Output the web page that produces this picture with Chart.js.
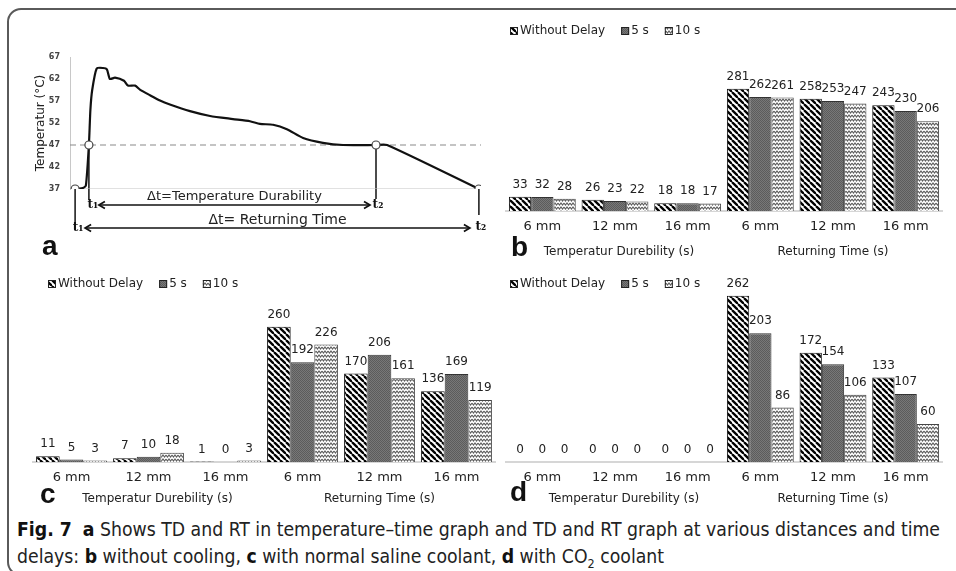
<!DOCTYPE html>
<html><head><meta charset="utf-8">
<script src="https://cdn.jsdelivr.net/npm/chart.js@4.4.0/dist/chart.umd.min.js"></script>
<style>
html,body{margin:0;padding:0;background:#fff;width:956px;height:571px;overflow:hidden;font-family:"DejaVu Sans",sans-serif;}
#frame{position:absolute;left:7px;top:8px;width:1000px;height:568px;border:2px solid #5a5a5a;border-radius:14px;box-sizing:border-box;}
canvas{position:absolute;}
.lt{position:absolute;font-family:"Liberation Sans",Arial,sans-serif;font-weight:bold;color:#111;line-height:1;font-size:28px;}
#cap{position:absolute;left:17px;top:516px;font-family:"Liberation Sans Narrow","DejaVu Sans Condensed",sans-serif;font-size:20px;line-height:27px;color:#222;white-space:nowrap;transform-origin:0 0;}
#cap b{color:#111;}
</style></head>
<body>
<div id="frame"></div>
<canvas id="ca" width="480" height="230" style="left:10px;top:40px;width:480px;height:230px"></canvas>
<canvas id="cb" width="476" height="250" style="left:480px;top:14px;width:476px;height:250px"></canvas>
<canvas id="cc" width="490" height="250" style="left:10px;top:262px;width:490px;height:250px"></canvas>
<canvas id="cd" width="476" height="250" style="left:480px;top:262px;width:476px;height:250px"></canvas>
<div class="lt" style="left:42px;top:232px;">a</div>
<div class="lt" style="left:511px;top:233px;">b</div>
<div class="lt" style="left:40px;top:480px;">c</div>
<div class="lt" style="left:510px;top:478px;">d</div>
<div id="cap"><span id="l1"><b>Fig. 7</b>&nbsp; <b>a</b> Shows TD and RT in temperature–time graph and TD and RT graph at various distances and time</span><br>delays: <b>b</b> without cooling, <b>c</b> with normal saline coolant, <b>d</b> with CO<sub style="font-size:13px;line-height:0">2</sub> coolant</div>
<script>
// ---------- Panel a data ----------
const tempTime   = [1.7, 4.5, 5.3, 6.3, 6.8, 7.4, 8.9, 11, 12.3, 13.3, 15, 18, 19.3, 21.7, 23.3, 26.7, 30, 33.3, 40, 46.7, 54.3, 60, 63.3, 67.7, 72.3, 77.7, 84.3, 91, 102, 105.7, 136.3];
const tempValues = [37, 37.3, 37.8, 47, 55, 59.5, 64.4, 64.5, 64.2, 62.0, 62.3, 61.6, 60.5, 60.5, 59.6, 58.3, 57.1, 56.2, 54.7, 53.6, 52.9, 52.4, 51.8, 51.6, 50.6, 48.6, 47.5, 47.0, 47, 47, 37];
const markerTimes = [1.7, 6.3, 102, 136.3];
const markerTemps = [37, 47, 47, 37];
const baseTemp = 37;
const limitTemp = 47;
const yTicksA = [37, 42, 47, 52, 57, 62, 67];
const xMaxA = 137;

// ---------- Panels b, c, d data ----------
const categories = ['6 mm', '12 mm', '16 mm', '6 mm', '12 mm', '16 mm'];
const groupLabels = ['Temperatur Durebility (s)', 'Returning Time (s)'];
const seriesNames = ['Without Delay', '5 s', '10 s'];
const bWithoutDelay = [33, 26, 18, 281, 258, 243];
const b5s           = [32, 23, 18, 262, 253, 230];
const b10s          = [28, 22, 17, 261, 247, 206];
const cWithoutDelay = [11, 7, 1, 260, 170, 136];
const c5s           = [5, 10, 0, 192, 206, 169];
const c10s          = [3, 18, 3, 226, 161, 119];
const dWithoutDelay = [0, 0, 0, 262, 172, 133];
const d5s           = [0, 0, 0, 203, 154, 107];
const d10s          = [0, 0, 0, 86, 106, 60];

// ---------- patterns ----------
function mk(w,h,fn){const c=document.createElement('canvas');c.width=w;c.height=h;const g=c.getContext('2d');fn(g);return g.createPattern(c,'repeat');}
const patStripe = mk(6,6,g=>{g.fillStyle='#fff';g.fillRect(0,0,6,6);g.strokeStyle='#000';g.lineWidth=2.3;for(const k of [-6,0,6]){g.beginPath();g.moveTo(k,0);g.lineTo(k+6,6);g.stroke();}});
const patGray = mk(2,2,g=>{g.fillStyle='#787878';g.fillRect(0,0,2,2);g.fillStyle='#5c5c5c';g.fillRect(0,0,1,1);g.fillRect(1,1,1,1);});
const patZig = mk(6,4,g=>{g.fillStyle='#fff';g.fillRect(0,0,6,4);g.strokeStyle='#5e5e5e';g.lineWidth=1.1;g.beginPath();g.moveTo(0,1);g.lineTo(1.5,3);g.lineTo(3,1);g.lineTo(4.5,3);g.lineTo(6,1);g.stroke();});
const patterns = [patStripe, patGray, patZig];
const borders = ['#111', '#333', '#444'];

Chart.defaults.font.family = 'DejaVu Sans';

// ---------- Panel a ----------
const annotA = {
  id:'annotA',
  beforeDatasetsDraw(chart){
    const g=chart.ctx, xs=chart.scales.x, ys=chart.scales.y, b=chart.chartArea.bottom;
    const drops=[34,11,10,26];
    g.save();g.strokeStyle='#111';g.lineWidth=1.5;
    markerTimes.forEach((t,i)=>{const x=xs.getPixelForValue(t), y=ys.getPixelForValue(markerTemps[i]);
      g.beginPath();g.moveTo(x,y);g.lineTo(x,b+drops[i]);g.stroke();});
    g.restore();
  },
  afterDraw(chart){
    const g=chart.ctx, xs=chart.scales.x, b=chart.chartArea.bottom;
    const px=markerTimes.map(t=>xs.getPixelForValue(t));
    g.save();g.strokeStyle='#111';g.fillStyle='#111';g.lineWidth=1.7;
    function arrow(x1,x2,y){g.beginPath();g.moveTo(x1,y);g.lineTo(x2,y);g.stroke();
      g.beginPath();g.moveTo(x1+6,y-3.5);g.lineTo(x1,y);g.lineTo(x1+6,y+3.5);g.stroke();
      g.beginPath();g.moveTo(x2-6,y-3.5);g.lineTo(x2,y);g.lineTo(x2-6,y+3.5);g.stroke();}
    const tdL=px[1]+10, tdR=px[2]-6, tdY=b+16;
    const rtL=px[0]+10, rtR=px[3]-9, rtY=b+39;
    arrow(tdL,tdR,tdY); arrow(rtL,rtR,rtY);
    g.textAlign='center';g.textBaseline='middle';
    g.font='bold 12px "DejaVu Serif"';
    g.fillText('t\u2081',px[0]+3,rtY);
    g.fillText('t\u2081',px[1]+4,tdY);
    g.fillText('t\u2082',px[2]+2,tdY);
    g.fillText('t\u2082',px[3]+2,rtY-1);
    g.fillStyle='#222';
    g.font='13px "DejaVu Sans"';
    g.fillText('\u0394t=Temperature Durability',(tdL+tdR)/2,b+8);
    g.font='14px "DejaVu Sans"';
    g.fillText('\u0394t= Returning Time',(rtL+rtR)/2,b+31);
    g.restore();
  }
};
new Chart(document.getElementById('ca'),{
  type:'line',
  data:{datasets:[
    {label:'Temperature',data:tempTime.map((t,i)=>({x:t,y:tempValues[i]})),borderColor:'#111',borderWidth:2.2,pointRadius:0,tension:0.2,fill:false,order:1},
    {label:'Markers',data:markerTimes.map((t,i)=>({x:t,y:markerTemps[i]})),showLine:false,pointRadius:4,pointBackgroundColor:'#fff',pointBorderColor:'#444',pointBorderWidth:1.2,order:0},
    {label:'Limit',data:[{x:0,y:limitTemp},{x:xMaxA,y:limitTemp}],borderColor:'#8a8a8a',borderDash:[6,4],borderWidth:1.1,pointRadius:0,order:3},
    {label:'Base',data:[{x:0,y:baseTemp},{x:xMaxA,y:baseTemp}],borderColor:'#c4c4c4',borderWidth:1.2,pointRadius:0,order:4}
  ]},
  options:{responsive:false,animation:false,events:[],
    layout:{padding:{left:20,right:9,top:17,bottom:81}},
    plugins:{legend:{display:false},tooltip:{enabled:false}},
    scales:{
      x:{type:'linear',display:false,min:0,max:xMaxA},
      y:{min:yTicksA[0],max:yTicksA[yTicksA.length-1],
        afterBuildTicks:s=>{s.ticks=yTicksA.map(v=>({value:v}));},
        ticks:{font:{family:'DejaVu Sans',size:8,weight:'bold'},color:'#444',padding:10},
        grid:{display:false,drawTicks:false},
        border:{display:true,color:'#c8c8c8',width:1},
        title:{display:true,text:'Temperatur (°C)',font:{family:'DejaVu Sans',size:12},color:'#222'},
        afterFit:s=>{s.width=40;}}
    }},
  plugins:[annotA]
});

// ---------- bar panels ----------
const deco = {
  id:'deco',
  afterDraw(chart){
    const o=chart.options.plugins.deco, g=chart.ctx, xs=chart.scales.x, b=chart.chartArea.bottom;
    g.save();
    g.textAlign='center';g.textBaseline='middle';g.fillStyle='#222';g.font='12px "DejaVu Sans"';
    chart.data.datasets.forEach((ds,i)=>{
      chart.getDatasetMeta(i).data.forEach((bar,j)=>{g.fillText(String(ds.data[j]),bar.x,bar.y-12);});
    });
    // group labels
    const gx1=(xs.getPixelForValue(0)+xs.getPixelForValue(2))/2, gx2=(xs.getPixelForValue(3)+xs.getPixelForValue(5))/2;
    g.fillText(groupLabels[0],gx1+o.gOff,b+o.groupDy);
    g.fillText(groupLabels[1],gx2,b+o.groupDy);
    // legend
    g.textAlign='left';
    let x=o.legX; const y=o.legY;
    chart.data.datasets.forEach((ds,i)=>{
      g.fillStyle=ds.backgroundColor;g.fillRect(x,y-4,8,8);
      g.strokeStyle='#222';g.lineWidth=1;g.strokeRect(x+0.5,y-3.5,7,7);
      g.fillStyle='#222';g.fillText(ds.label,x+10,y);
      x+=10+g.measureText(ds.label).width+16;
    });
    g.restore();
  }
};
function barChart(id,series,o){
  return new Chart(document.getElementById(id),{
    type:'bar',
    data:{labels:categories,datasets:series.map((d,i)=>({label:seriesNames[i],data:d,backgroundColor:patterns[i],borderColor:borders[i],borderWidth:1,borderSkipped:'bottom',categoryPercentage:0.92,barPercentage:1}))},
    options:{responsive:false,animation:false,events:[],
      layout:{padding:o.pad},
      plugins:{legend:{display:false},tooltip:{enabled:false},deco:o},
      scales:{
        x:{grid:{display:false,drawTicks:false},border:{display:true,color:'#d6d6d6',width:2},
           ticks:{font:{family:'DejaVu Sans',size:13},color:'#222',padding:8},afterFit:s=>{s.height=30;}},
        y:{display:false,min:0,max:o.max}
      }},
    plugins:[deco]
  });
}
barChart('cb',[bWithoutDelay,b5s,b10s],{pad:{left:26,right:14,top:26,bottom:23},max:393,groupDy:41,gOff:4,legX:30,legY:17});
barChart('cc',[cWithoutDelay,c5s,c10s],{pad:{left:23,right:5,top:38,bottom:20},max:311.5,groupDy:37,gOff:9,legX:38,legY:22});
barChart('cd',[dWithoutDelay,d5s,d10s],{pad:{left:26,right:14,top:28,bottom:20},max:271,groupDy:37,gOff:9,legX:30,legY:22});

// caption width fit
const l1=document.getElementById('l1');
const w=l1.getBoundingClientRect().width;
document.getElementById('cap').style.transform='scaleX('+(923/w)+')';
</script>
</body></html>
